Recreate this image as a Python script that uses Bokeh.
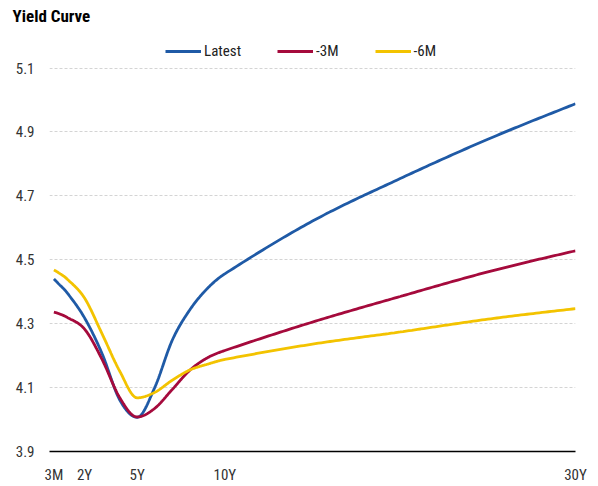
import numpy as np
from bokeh.plotting import figure
from bokeh.models import Range1d, FixedTicker, Legend, LegendItem
from bokeh.embed import file_html
from bokeh.resources import INLINE

# ---- data ----
tenors = [0.25, 0.5, 1, 2, 3, 4, 5, 6, 7, 8, 9, 10, 15, 20, 25, 30]
latest = [4.440, 4.426, 4.397, 4.318, 4.206, 4.062, 4.007, 4.100, 4.248, 4.343,
          4.410, 4.456, 4.621, 4.754, 4.877, 4.988]
minus_3m = [4.336, 4.332, 4.320, 4.283, 4.188, 4.069, 4.008, 4.035, 4.094, 4.154,
            4.193, 4.216, 4.305, 4.385, 4.462, 4.528]
minus_6m = [4.468, 4.460, 4.440, 4.380, 4.268, 4.152, 4.068, 4.085, 4.123, 4.155,
            4.173, 4.188, 4.236, 4.274, 4.314, 4.347]
series_names = ["Latest", "-3M", "-6M"]
tick_positions = [0.25, 2, 5, 10, 30]
tick_labels = ["3M", "2Y", "5Y", "10Y", "30Y"]
y_ticks = [3.9, 4.1, 4.3, 4.5, 4.7, 4.9, 5.1]
y_tick_labels = ["3.9", "4.1", "4.3", "4.5", "4.7", "4.9", "5.1"]

FONT = "'Roboto Condensed', 'Liberation Sans Narrow', 'DejaVu Sans Condensed', sans-serif"

# frame geometry (pixels)
TOP, BOTTOM_BORDER, HEIGHT = 26, 35, 486
Y5_1_PX = 67.5  # where 5.1 sits in the reference
frame_bottom = HEIGHT - BOTTOM_BORDER
px_per_unit = (frame_bottom - Y5_1_PX) / (5.1 - 3.9)
y_top = 3.9 + (frame_bottom - TOP) / px_per_unit


def smooth_curve(xs, ys, n=30):
    """Smooth C1 cubic through the data points (centred-difference tangents,
    flattened at turning points) - only used to draw the line smoothly."""
    xs = np.asarray(xs, float)
    ys = np.asarray(ys, float)
    h = np.diff(xs)
    s = np.diff(ys) / h
    m = np.zeros_like(ys)
    for i in range(1, len(xs) - 1):
        if np.sign(s[i - 1]) != np.sign(s[i]):
            m[i] = 0.0
        else:
            c = (ys[i + 1] - ys[i - 1]) / (xs[i + 1] - xs[i - 1])
            lim = 3 * min(abs(s[i - 1]), abs(s[i]))
            m[i] = np.sign(c) * min(abs(c), lim)
    m[0] = (3 * s[0] - m[1]) / 2
    m[-1] = (3 * s[-1] - m[-2]) / 2
    ox, oy = [], []
    for i in range(len(xs) - 1):
        t = np.linspace(0, 1, n, endpoint=(i == len(xs) - 2))
        h00 = 2 * t**3 - 3 * t**2 + 1
        h10 = t**3 - 2 * t**2 + t
        h01 = -2 * t**3 + 3 * t**2
        h11 = t**3 - t**2
        ox.extend(xs[i] + t * h[i])
        oy.extend(h00 * ys[i] + h10 * h[i] * m[i] + h01 * ys[i + 1] + h11 * h[i] * m[i + 1])
    return ox, oy


p = figure(width=598, height=HEIGHT, output_backend="svg", toolbar_location=None,
           x_range=Range1d(0, 30), y_range=Range1d(3.9, y_top),
           min_border_left=49, min_border_right=23, min_border_top=TOP,
           min_border_bottom=BOTTOM_BORDER)
p.outline_line_color = None
p.background_fill_color = "white"

p.title.text = "Yield Curve"
p.title.text_font = FONT
p.title.text_font_size = "17px"
p.title.text_font_style = "bold"
p.title.text_color = "black"
p.title.align = "left"
p.title.vertical_align = "bottom"
p.title.offset = -37
p.title.standoff = 2

colors = ["#1f5aa6", "#a50a3c", "#f3c300"]
renderers = []
for ys, c in zip([latest, minus_3m, minus_6m], colors):
    cx, cy = smooth_curve(tenors, ys)
    r = p.line(cx, cy, line_color=c, line_width=2.8)
    renderers.append(r)

# axes
p.xaxis.ticker = FixedTicker(ticks=tick_positions)
p.xaxis.major_label_overrides = {t: l for t, l in zip(tick_positions, tick_labels)}
p.xaxis.axis_line_color = "black"
p.xaxis.axis_line_width = 1.6
p.xaxis.major_tick_line_color = None
p.xaxis.minor_tick_line_color = None
p.xaxis.major_tick_out = 0
p.xaxis.major_tick_in = 0
p.xaxis.minor_tick_out = 0
p.xaxis.major_label_standoff = 14
p.xaxis.major_label_text_font = FONT
p.xaxis.major_label_text_font_size = "15px"
p.xaxis.major_label_text_color = "#333333"

p.yaxis.ticker = FixedTicker(ticks=y_ticks)
p.yaxis.major_label_overrides = {t: l for t, l in zip(y_ticks, y_tick_labels)}
p.yaxis.axis_line_color = None
p.yaxis.major_tick_line_color = None
p.yaxis.minor_tick_line_color = None
p.yaxis.major_tick_out = 0
p.yaxis.major_tick_in = 0
p.yaxis.minor_tick_out = 0
p.yaxis.major_label_standoff = 15
p.yaxis.major_label_text_font = FONT
p.yaxis.major_label_text_font_size = "15px"
p.yaxis.major_label_text_color = "#333333"

p.xgrid.grid_line_color = None
p.ygrid.ticker = FixedTicker(ticks=y_ticks[1:])
p.ygrid.grid_line_color = "#d4d4d4"
p.ygrid.grid_line_dash = "3 2"
p.ygrid.grid_line_width = 1

legend = Legend(items=[LegendItem(label=n, renderers=[r]) for n, r in zip(series_names, renderers)],
                orientation="horizontal", location=(116, frame_bottom - 61), margin=0, padding=0,
                spacing=36, glyph_width=36, glyph_height=20, label_height=20,
                label_standoff=3, border_line_color=None, background_fill_alpha=0,
                label_text_font=FONT, label_text_font_size="15px", label_text_color="#222222")
p.add_layout(legend, "center")

open("out.html", "w").write(file_html(p, INLINE))
